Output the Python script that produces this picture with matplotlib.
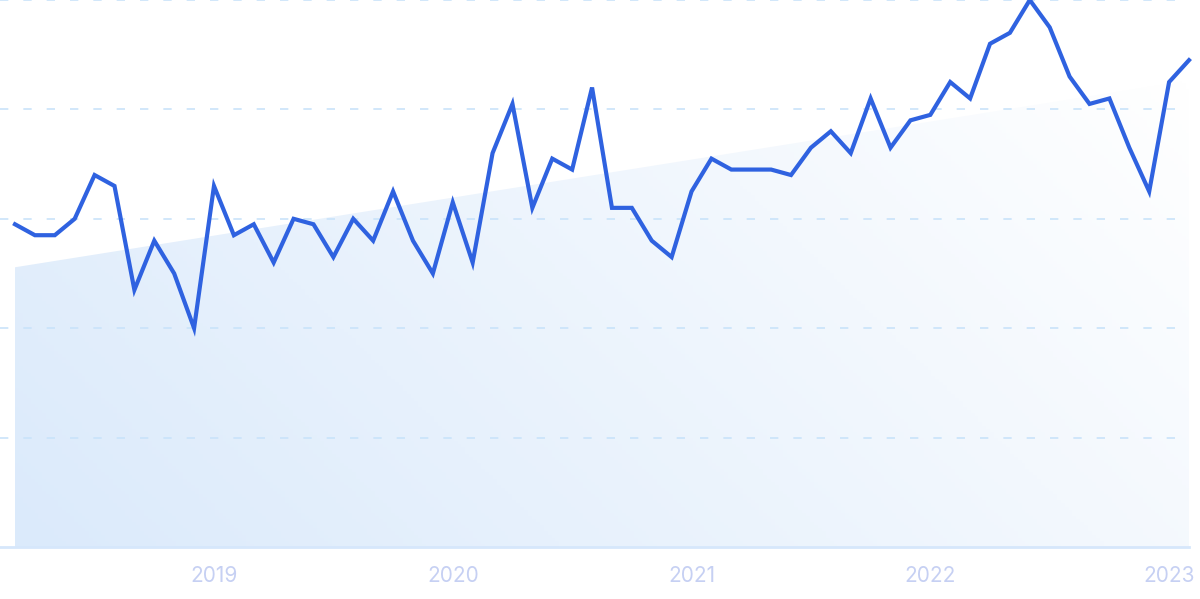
import matplotlib
matplotlib.use("Agg")
import matplotlib.pyplot as plt
import numpy as np
from matplotlib.colors import LinearSegmentedColormap

# monthly interest, Mar 2018 .. Feb 2023
values = [59, 57, 57, 60, 68, 66, 47, 56, 50, 40,
          66, 57, 59, 52, 60, 59, 53, 60, 56, 65, 56, 50,
          63, 52, 72, 81, 62, 71, 69, 84, 62, 62, 56, 53,
          65, 71, 69, 69, 69, 68, 73, 76, 72, 82, 73, 78,
          79, 85, 82, 92, 94, 100, 95, 86, 81, 82, 73, 65,
          85, 89]
year_labels = ["2019", "2020", "2021", "2022", "2023"]
year_start_idx = [10, 22, 34, 46, 58]   # January of each year
grid_values = [20, 40, 60, 80, 100]

x = np.arange(len(values))
y = np.array(values)

# linear trend under the line
b1, b0 = np.polyfit(x, y, 1)
trend = b0 + b1 * x

fig = plt.figure(figsize=(12, 5.99), dpi=100)
ax = fig.add_axes([0, 52 / 599, 1189 / 1200, 547 / 599])
ax.set_xlim(-15 / 19.9, x[-1])
ax.set_ylim(0, 100)

# gradient fill clipped to the trend area
poly = ax.fill_between(x, 0, trend, color="none", lw=0)
nx, ny = 300, 150
gx = np.linspace(0, 1, nx)
gy = np.linspace(0, 1, ny)
GX, GY = np.meshgrid(gx, gy)
t = 0.75 * GX + 0.3 * (1 - GY)
cmap = LinearSegmentedColormap.from_list("fill", ["#dbeafb", "#ffffff"])
img = ax.imshow(t, cmap=cmap, vmin=0, vmax=1.05, aspect="auto",
                extent=[x[0], x[-1], 0, trend.max()], origin="upper", zorder=1)
path = poly.get_paths()[0]
img.set_clip_path(path, transform=ax.transData)

# dashed grid
for g in grid_values:
    ax.axhline(g, color="#c9e3fa", lw=1.2, ls=(0, (5, 9)), zorder=1.5, clip_on=False)
ax.axhline(0, color="#d6e7fb", lw=2, zorder=2, clip_on=False)

ax.plot(x, y, color="#2f62e0", lw=3.0, solid_joinstyle="miter", zorder=3, clip_on=False)

for s in ax.spines.values():
    s.set_visible(False)
ax.set_yticks([])
ax.set_xticks(year_start_idx)
ax.set_xticklabels(year_labels, fontsize=15, color="#c6d0f3", family="Inter")
ax.tick_params(axis="x", length=0, pad=14)

fig.savefig("out.png", dpi=100)
